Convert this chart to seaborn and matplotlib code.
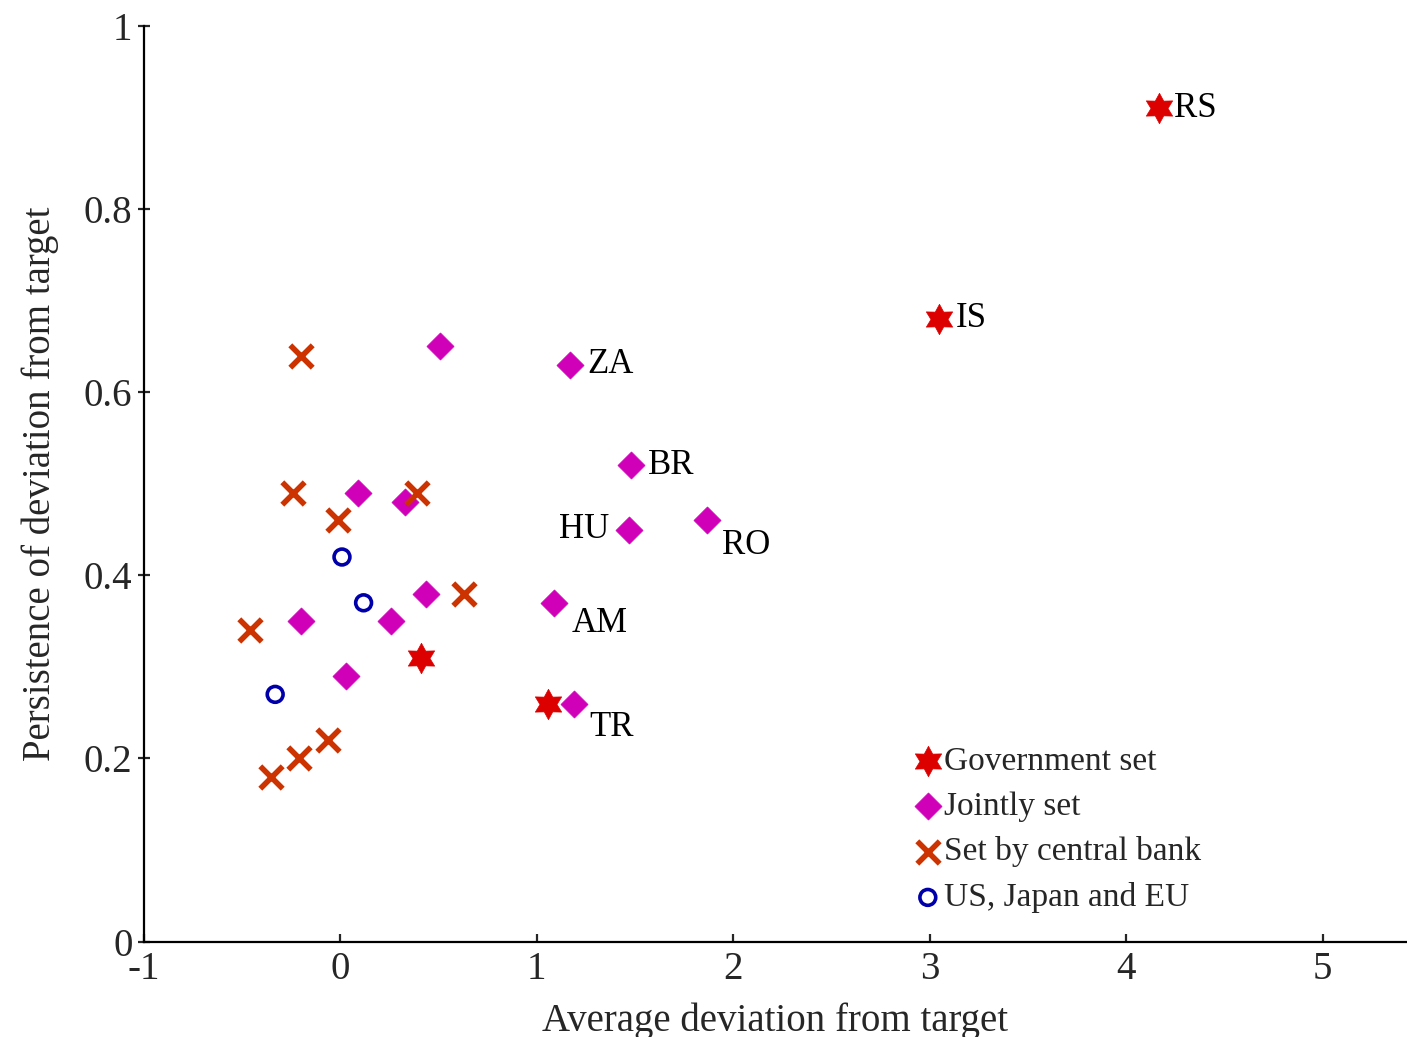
import numpy as np
import pandas as pd
import matplotlib
matplotlib.use("Agg")
import matplotlib.pyplot as plt
from matplotlib.path import Path
import seaborn as sns

# Data
gov_x = [4.17, 3.05, 0.41, 1.06]
gov_y = [0.91, 0.68, 0.31, 0.26]

joint_x = [0.51, 0.09, 0.33, 0.44, -0.20, 0.26, 0.03, 1.17, 1.48, 1.47, 1.87, 1.09, 1.19]
joint_y = [0.65, 0.49, 0.48, 0.38, 0.35, 0.35, 0.29, 0.63, 0.52, 0.45, 0.46, 0.37, 0.26]

cb_x = [-0.20, -0.24, -0.01, 0.39, -0.46, 0.63, -0.06, -0.21, -0.35]
cb_y = [0.64, 0.49, 0.46, 0.49, 0.34, 0.38, 0.22, 0.20, 0.18]

adv_x = [0.01, 0.12, -0.33]
adv_y = [0.42, 0.37, 0.27]

# country labels: (name, x, y, dx px, dy px, ha)
labels = [
    ("RS", 4.17, 0.91, 15, 0, "left"),
    ("IS", 3.05, 0.68, 16, 0, "left"),
    ("ZA", 1.17, 0.63, 17, 0, "left"),
    ("BR", 1.48, 0.52, 17, 0, "left"),
    ("HU", 1.47, 0.45, -20, 0, "right"),
    ("RO", 1.87, 0.46, 15, -25, "left"),
    ("AM", 1.09, 0.37, 17, -21, "left"),
    ("TR", 1.19, 0.26, 15, -24, "left"),
]

sns.set_style("ticks")
plt.rcParams["font.family"] = ["Liberation Serif", "DejaVu Serif"]

fig = plt.figure(figsize=(14.07, 10.37), dpi=100)
ax = fig.add_axes([0.102, 0.092, 0.898, 0.883])

hexagram = Path.unit_regular_star(6, 0.56)

sns.scatterplot(x=gov_x, y=gov_y, ax=ax, marker=hexagram, s=480,
                color="#dd0000", edgecolor="#dd0000", linewidth=0.5,
                label="Government set", zorder=3)
sns.scatterplot(x=joint_x, y=joint_y, ax=ax, marker="D", s=190,
                color="#d000b8", edgecolor="#d000b8", linewidth=0.5,
                label="Jointly set", zorder=3)
sns.scatterplot(x=cb_x, y=cb_y, ax=ax, marker="x", s=260,
                color="#cc3300", linewidth=4,
                label="Set by central bank", zorder=3)
ax.scatter(adv_x, adv_y, marker="o", s=130, facecolors="none",
           edgecolors="#0000aa", linewidths=2.6,
           label="US, Japan and EU", zorder=3)

for name, x, y, dx, dy, ha in labels:
    ax.annotate(name, (x, y), xytext=(dx, dy), textcoords="offset pixels",
                ha=ha, va="center", fontsize=25, color="black")

ax.set_xlim(-1, 5.43)
ax.set_ylim(0, 1)
ax.set_xticks([-1, 0, 1, 2, 3, 4, 5])
ax.set_yticks([0, 0.2, 0.4, 0.6, 0.8, 1])
ax.set_yticklabels(["0", "0.2", "0.4", "0.6", "0.8", "1"])
ax.set_xticklabels(["-1", "0", "1", "2", "3", "4", "5"])

sns.despine(ax=ax)
for sp in ["left", "bottom"]:
    ax.spines[sp].set_linewidth(1.6)
    ax.spines[sp].set_color("black")

ax.tick_params(axis="x", direction="in", length=6, width=1.6, labelsize=28, pad=7)
ax.tick_params(axis="y", direction="inout", length=8, width=1.6, labelsize=28, pad=4)

ax.set_xlabel("Average deviation from target", fontsize=28, labelpad=10)
ax.set_ylabel("Persistence of deviation from target", fontsize=28, labelpad=18)

ax.legend(loc="upper left", bbox_to_anchor=(0.597, 0.228), frameon=False,
          fontsize=24, handletextpad=0.0, handlelength=1.0, labelspacing=0.44,
          borderaxespad=0)

fig.savefig("out.png", dpi=100)
